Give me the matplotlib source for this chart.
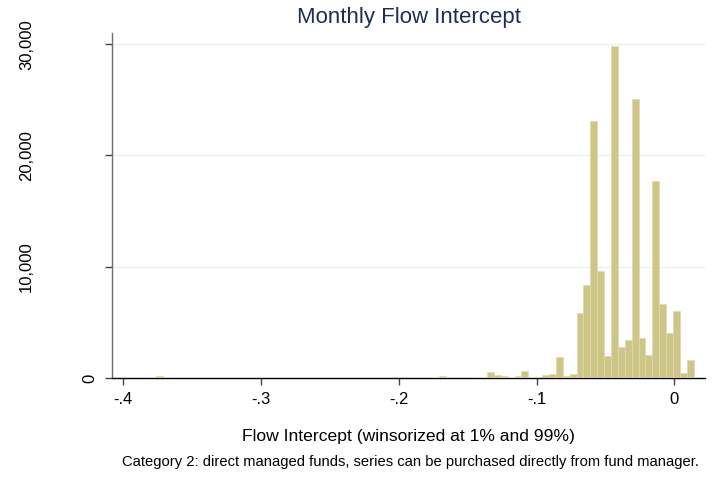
import numpy as np
import matplotlib.pyplot as plt
from matplotlib.transforms import blended_transform_factory

plt.rcParams['font.family'] = ['Liberation Sans', 'DejaVu Sans']

# histogram bins (width .005 starting at the minimum) and frequencies per bin
bin_start = -0.376
bin_width = 0.005
counts = [180, 0, 0, 0, 0, 0, 0, 0, 0, 0,
          0, 0, 0, 0, 0, 0, 0, 0, 0, 0,
          0, 0, 0, 0, 0, 0, 0, 0, 0, 0,
          0, 0, 0, 0, 0, 0, 0, 0, 0, 0,
          60, 150, 0, 0, 0, 0, 100, 100, 560, 270,
          170, 60, 150, 600, 100, 100, 240, 340, 1880, 200,
          340, 5870, 8330, 23100, 9610, 2000, 29830, 2810, 3440, 25040,
          3590, 2070, 17670, 6650, 4010, 5990, 480, 1620]

xticks = [-0.4, -0.3, -0.2, -0.1, 0]
xtick_labels = ['-.4', '-.3', '-.2', '-.1', '0']
yticks = [0, 10000, 20000, 30000]
ytick_labels = ['0', '10,000', '20,000', '30,000']

W, H = 723, 480
fig = plt.figure(figsize=(W / 100, H / 100), dpi=100)
ax = fig.add_axes([112 / W, 102 / H, 593 / W, 345 / H])

lefts = bin_start + bin_width * np.arange(len(counts))
ax.bar(lefts, counts, width=bin_width, align='edge', color='#CDC686',
       edgecolor='#DED9AE', linewidth=0.5, zorder=3)

ax.set_xlim(-0.408, 0.0222)
ax.set_ylim(0, 31000)

# grid lines
for v in yticks[1:]:
    ax.axhline(v, color='#E8F0F1', linewidth=1.0, zorder=1)

for s in ['top', 'right']:
    ax.spines[s].set_visible(False)
ax.spines['left'].set_color('#6E6E6E')
ax.spines['bottom'].set_color('black')
ax.spines['left'].set_linewidth(1.0)
ax.spines['bottom'].set_linewidth(1.0)

ax.set_xticks(xticks)
ax.set_xticklabels(xtick_labels, fontsize=12)
ax.tick_params(axis='x', length=5, width=1, color='#444444', pad=5)
ax.set_yticks(yticks)
ax.tick_params(axis='y', length=5, width=1, color='#444444', labelleft=False)

# rotated y labels placed like Stata does
tr = blended_transform_factory(fig.transFigure, ax.transData)
for v, lab in zip(yticks, ytick_labels):
    xr = 97 if lab == '0' else 34
    ax.text(xr / W, v, lab, transform=tr, rotation=90, ha='right',
            va='center', fontsize=12, color='black')

fig.text(409 / W, 1 - 18 / H, 'Monthly Flow Intercept', ha='center',
         va='center', fontsize=16, color='#1F2D55')
fig.text(409 / W, 1 - 437 / H, 'Flow Intercept (winsorized at 1% and 99%)',
         ha='center', va='center', fontsize=12.6)
fig.text(410 / W, 1 - 462 / H,
         'Category 2: direct managed funds, series can be purchased directly from fund manager.',
         ha='center', va='center', fontsize=10.6)

fig.savefig('out.png', dpi=100, facecolor='white')
